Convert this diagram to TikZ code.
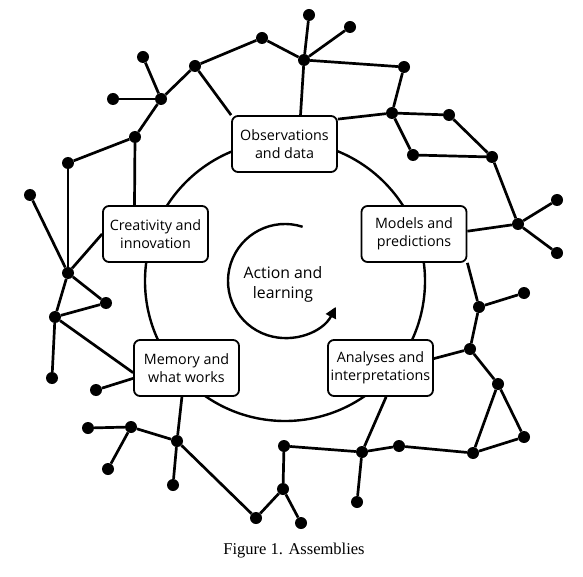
\documentclass[tikz,border=0pt]{standalone}
\usepackage{fontspec}
\setmainfont{Open Sans}
\newfontfamily\capfont{Liberation Serif}
\usetikzlibrary{arrows.meta}
\begin{document}
\begin{tikzpicture}[x=1pt,y=-1pt,
  dot/.style={circle,fill=black,inner sep=0pt,minimum size=12pt},
  box/.style={draw,line width=1.8pt,rounded corners=6pt,fill=white,align=center,
    minimum width=105pt,minimum height=56pt,inner sep=2pt,
    font=\fontsize{14.3}{18}\selectfont},
  link/.style={line width=2.7pt},
  ring/.style={line width=2.4pt}]
\useasboundingbox (0,0) rectangle (583,577);
% big circle and inner arrow arc
\draw[ring] (285,281) circle[radius=140pt];
\draw[ring,-{Triangle[length=11pt,width=11pt]}] ([shift={(72:57pt)}]285,281) arc[start angle=72,end angle=333,radius=57pt];
\node[align=center,font=\fontsize{15.8}{20}\selectfont] (act) at (283,284) {Action and\\learning};
% boxes
\node[box] (Obs) at (284.5,144) {Observations\\and data};
\node[box] (Mod) at (414,234) {Models and\\predictions};
\node[box] (Cre) at (155.5,234) {Creativity and\\innovation};
\node[box] (Mem) at (186.5,368) {Memory and\\what works};
\node[box] (Ana) at (380.5,368) {Analyses and\\interpretations};
% dots
\node[dot] (A1) at (262,38) {};
\node[dot] (A2) at (195,66) {};
\node[dot] (A3) at (143,57) {};
\node[dot] (A4) at (161,99) {};
\node[dot] (A5) at (113,99) {};
\node[dot] (A6) at (135,137) {};
\node[dot] (A7) at (68,163) {};
\node[dot] (A8) at (30,195) {};
\node[dot] (A9) at (68,273) {};
\node[dot] (B1) at (309,15) {};
\node[dot] (B2) at (350,27) {};
\node[dot] (B3) at (304,60) {};
\node[dot] (B4) at (404,67) {};
\node[dot] (B5) at (392,113) {};
\node[dot] (B6) at (449,115) {};
\node[dot] (B7) at (413,155) {};
\node[dot] (B8) at (492,157) {};
\node[dot] (B9) at (518,224) {};
\node[dot] (B10) at (557,200) {};
\node[dot] (B11) at (557,253) {};
\node[dot] (C0) at (524,293) {};
\node[dot] (C1) at (479,307) {};
\node[dot] (C2) at (470,349) {};
\node[dot] (C3) at (498,384) {};
\node[dot] (C4) at (524,437) {};
\node[dot] (C5) at (473,453) {};
\node[dot] (C6) at (399,446) {};
\node[dot] (C7) at (362,452) {};
\node[dot] (C8) at (357,502) {};
\node[dot] (C9) at (284,446) {};
\node[dot] (C10) at (283,489) {};
\node[dot] (C11) at (301,523) {};
\node[dot] (D1) at (106,303) {};
\node[dot] (D2) at (55,317) {};
\node[dot] (D3) at (52,378) {};
\node[dot] (D4) at (96,390) {};
\node[dot] (D5) at (88,428) {};
\node[dot] (D6) at (131,427) {};
\node[dot] (D7) at (108,469) {};
\node[dot] (D8) at (177,441) {};
\node[dot] (D9) at (173,485) {};
\node[dot] (D10) at (256,518) {};
% connectors
\draw[link] (A1) -- (A2);
\draw[link] (A1) -- (B3);
\draw[link] (A2) -- (A4);
\draw[link] (A4) -- (A3);
\draw[link] (A4) -- (A5);
\draw[link] (A4) -- (A6);
\draw[link] (A2) -- (Obs.north west);
\draw[link] (A6) -- (A7);
\draw[link] (A6) -- (Cre.126);
\draw[link] (A7) -- (A9);
\draw[link] (A8) -- (A9);
\draw[link] (A9) -- (Cre.west);
\draw[link] (A9) -- (D1);
\draw[link] (A9) -- (D2);
\draw[link] (D2) -- (D1);
\draw[link] (D2) -- (D3);
\draw[link] (D2) -- (Mem.185);
\draw[link] (D4) -- (Mem.191);
\draw[link] (D5) -- (D6);
\draw[link] (D6) -- (D7);
\draw[link] (D6) -- (D8);
\draw[link] (D8) -- (Mem.261);
\draw[link] (D8) -- (D9);
\draw[link] (D8) -- (D10);
\draw[link] (D10) -- (C10);
\draw[link] (C10) -- (C9);
\draw[link] (C10) -- (C11);
\draw[link] (C9) -- (C7);
\draw[link] (C7) -- (C8);
\draw[link] (C7) -- (Ana.281);
\draw[link] (C7) -- (C6);
\draw[link] (C6) -- (C5);
\draw[link] (C5) -- (C3);
\draw[link] (C5) -- (C4);
\draw[link] (C3) -- (C4);
\draw[link] (C3) -- (C2);
\draw[link] (C2) -- (Ana.10);
\draw[link] (C2) -- (C1);
\draw[link] (C1) -- (C0);
\draw[link] (C1) -- (Mod.south east);
\draw[link] (B9) -- (Mod.3);
\draw[link] (B9) -- (B10);
\draw[link] (B9) -- (B11);
\draw[link] (B9) -- (B8);
\draw[link] (B8) -- (B6);
\draw[link] (B8) -- (B7);
\draw[link] (B7) -- (B5);
\draw[link] (B6) -- (B5);
\draw[link] (B5) -- (Obs.25);
\draw[link] (B5) -- (B4);
\draw[link] (B4) -- (B3);
\draw[link] (B3) -- (B1);
\draw[link] (B3) -- (B2);
\draw[link] (B3) -- (Obs.61);
% caption
\node[font=\capfont\fontsize{16.5}{19}\selectfont] (cap) at (294,551) {Figure 1. Assemblies};
\end{tikzpicture}
\end{document}
